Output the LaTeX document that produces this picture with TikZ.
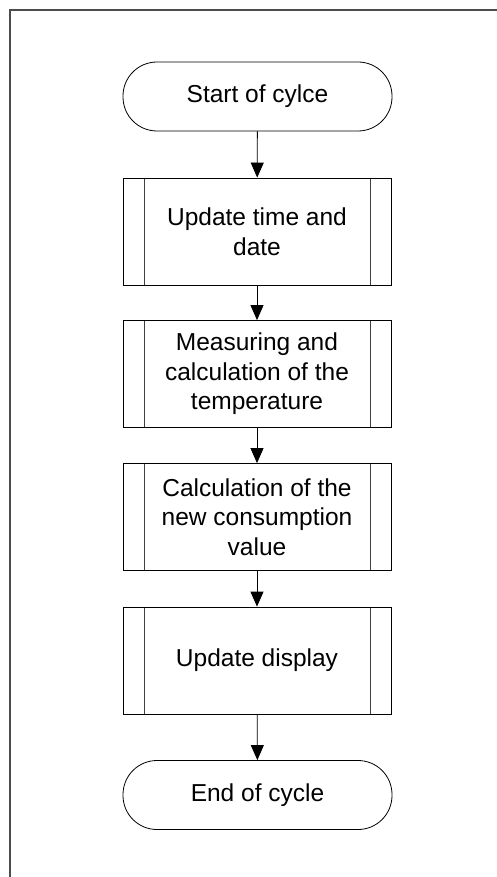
\documentclass[tikz,border=0pt]{standalone}
\usepackage{fontspec}
\setmainfont{Liberation Sans}
\usetikzlibrary{arrows.meta}
\begin{document}
\begin{tikzpicture}[x=1pt,y=-1pt,
  every node/.style={font=\fontsize{24.5}{29.5}\selectfont, align=center, inner sep=0pt},
  term/.style={draw=black, line width=0.8pt, rounded corners=34pt, minimum width=269pt, minimum height=69pt},
  subproc/.style={draw=black, line width=0.8pt, minimum width=268pt, minimum height=107pt,
    path picture={
      \draw[line width=0.8pt, draw=black!75] ([xshift=21pt]path picture bounding box.north west) -- ([xshift=21pt]path picture bounding box.south west);
      \draw[line width=0.8pt, draw=black!75] ([xshift=-21pt]path picture bounding box.north east) -- ([xshift=-21pt]path picture bounding box.south east);}},
  flow/.style={draw=black, line width=0.8pt, -{Triangle[length=15pt,width=13pt]}},
  frameline/.style={draw=black!70, line width=1.4pt}
]
\useasboundingbox (0,0) rectangle (497,877);
\coordinate (fcorner) at (10,10);
\coordinate (fright) at (497,10);
\coordinate (fbottom) at (10,877);
\draw[frameline] (fbottom) -- (fcorner) -- (fright);

\node[term] (start) at (257.5,96.5) {Start of cylce};
\node[subproc] (b1) at (257,231.5) {Update time and\\date};
\node[subproc] (b2) at (257,374) {Measuring and\\calculation of the\\temperature};
\node[subproc] (b3) at (257,517) {Calculation of the\\new consumption\\value};
\node[subproc] (b4) at (257,660.5) {Update display};
\node[term] (stop) at (257.5,795) {End of cycle};

\draw[flow] (start) -- (b1);
\draw[flow] (b1) -- (b2);
\draw[flow] (b2) -- (b3);
\draw[flow] (b3) -- (b4);
\draw[flow] (b4) -- (stop);
\end{tikzpicture}
\end{document}
